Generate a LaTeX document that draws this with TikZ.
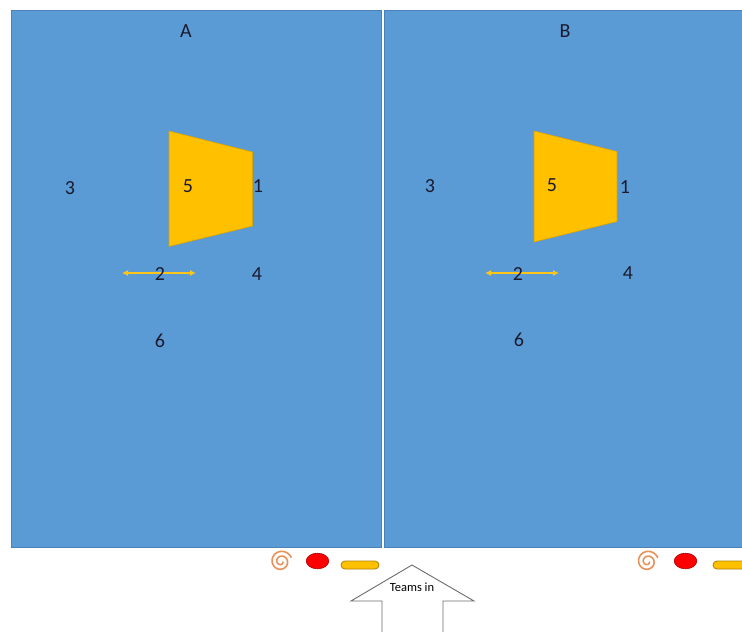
\documentclass[tikz,border=0pt]{standalone}
\usepackage{fontspec}
\setmainfont{Carlito}
\usetikzlibrary{arrows.meta}
\definecolor{field}{HTML}{5B9BD5}
\definecolor{fieldline}{HTML}{4A82B8}
\definecolor{cone}{HTML}{FFC000}
\definecolor{conedk}{HTML}{D9A300}
\definecolor{txt}{HTML}{1A1A2E}
\definecolor{swirl}{HTML}{E8915A}
\tikzset{
  panel/.style={fill=field, draw=fieldline, line width=0.6pt},
  lbl/.style={font=\fontsize{20}{20}\selectfont, text=txt, inner sep=0pt},
  trap/.style={fill=cone, draw=conedk, line width=0.6pt},
  dbl/.style={draw=cone!90!white, line width=1.3pt, {Latex[length=6pt,width=6pt]}-{Latex[length=6pt,width=6pt]}},
  ball/.style={fill=red, draw=red!70!black, line width=0.6pt},
  pill/.style={fill=cone, draw=conedk!80!black, line width=0.8pt, rounded corners=4pt},
  swirlst/.style={draw=swirl, line width=1.6pt},
}
\begin{document}
\begin{tikzpicture}[x=1pt,y=-1pt]
\useasboundingbox (0,0) rectangle (742,632);
\fill[white] (0,0) rectangle (742,632);
\begin{scope}
\clip (0,0) rectangle (742,632);
% panels
\path[panel] (11,10) rectangle (381,547);
\path[panel] (384,10) rectangle (750,547);
\end{scope}
% panel A
\node[lbl] (tA) at (186,31) {A};
\path[trap] (169,131) -- (252.5,152) -- (252.5,226) -- (169,246.5) -- cycle;
\node[lbl] (fiveA) at (188,186) {5};
\node[lbl] (oneA) at (258,186) {1};
\node[lbl] (threeA) at (70,188) {3};
\coordinate (aL) at (122,273);
\coordinate (aR) at (196,273);
\draw[dbl] (aL) -- (aR);
\node[lbl] (twoA) at (160,274) {2};
\node[lbl] (fourA) at (257,274) {4};
\node[lbl] (sixA) at (160,341) {6};
% panel B
\node[lbl] (tB) at (565,31) {B};
\path[trap] (534,131) -- (617,151.5) -- (617,221.5) -- (534,242) -- cycle;
\node[lbl] (fiveB) at (552,185) {5};
\node[lbl] (oneB) at (625,187) {1};
\node[lbl] (threeB) at (430,186) {3};
\coordinate (bL) at (485,273);
\coordinate (bR) at (559,273);
\draw[dbl] (bL) -- (bR);
\node[lbl] (twoB) at (518,274) {2};
\node[lbl] (fourB) at (628,273) {4};
\node[lbl] (sixB) at (519,340) {6};
% bottom icons
\draw[swirlst] plot[domain=0:700, samples=100, smooth] ({281+(1.8+9.2*\x/700)*cos(\x)}, {561.5+(1.8+9.2*\x/700)*sin(\x)});
\path[ball] (317.5,561) ellipse (11.3 and 7.8);
\path[pill] (341,561) rectangle (379,569);
\draw[swirlst] plot[domain=0:700, samples=100, smooth] ({647.5+(1.8+9.2*\x/700)*cos(\x)}, {561.5+(1.8+9.2*\x/700)*sin(\x)});
\path[ball] (685.5,561) ellipse (11.3 and 7.8);
\begin{scope}
\clip (0,0) rectangle (742,632);
\path[pill] (713,561) rectangle (760,569);
\end{scope}
% teams in arrow
\draw[fill=white, draw=gray!85!black, line width=0.9pt]
  (382,633) -- (382,601) -- (351,601) -- (412,565) -- (474,601) -- (443,601) -- (443,633);
\node[font=\fontsize{12.5}{12.5}\selectfont, inner sep=0pt] (teams) at (412,587) {Teams in};
\end{tikzpicture}
\end{document}
